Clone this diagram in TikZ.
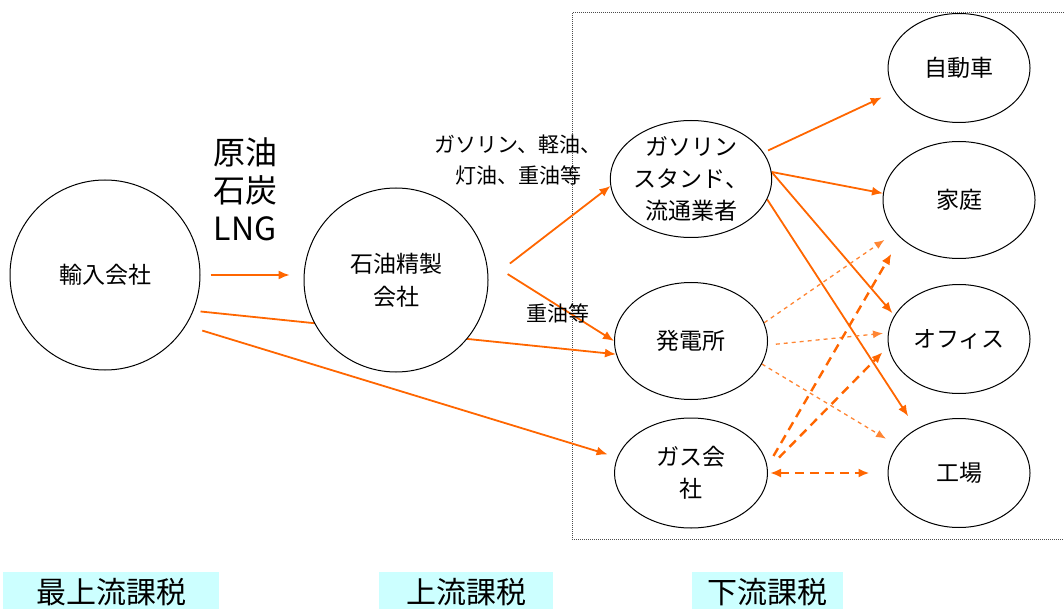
\documentclass[tikz,border=0pt]{standalone}
\usepackage{fontspec}
\setmainfont{Noto Sans CJK JP}
\usepackage{tikz}
\usetikzlibrary{shapes,arrows.meta,backgrounds}
\definecolor{fuel}{RGB}{255,102,0}
\definecolor{taxbg}{RGB}{204,255,255}
\tikzstyle{flow} = [draw=fuel, line width=1.8pt, -{Latex[length=11pt, width=9pt]}]
\tikzstyle{elec} = [draw=fuel!80, line width=1.3pt, dash pattern=on 4pt off 4pt, -{Latex[length=10pt, width=8pt]}]
\tikzstyle{gasflow} = [draw=fuel, line width=2.4pt, dash pattern=on 9pt off 6pt, -{Latex[length=11pt, width=9pt]}]
\tikzstyle{hub} = [draw, circle, fill=white, line width=1pt, minimum size=190pt, inner sep=0pt, align=center, font=\fontsize{23}{33}\selectfont]
\tikzstyle{mid} = [draw, ellipse, fill=white, line width=1pt, minimum width=153pt, minimum height=117pt, inner xsep=0pt, inner ysep=-3pt, align=center, font=\fontsize{23}{32}\selectfont]
\tikzstyle{user} = [mid, minimum width=142pt, minimum height=109pt]
\tikzstyle{note} = [align=center, font=\fontsize{21}{31}\selectfont]
\tikzstyle{tax} = [fill=taxbg, minimum height=40pt, inner sep=0pt, font=\fontsize{30}{30}\selectfont]
\tikzstyle{zone} = [draw=black!70, line width=1pt, densely dotted]
\begin{document}
\begin{tikzpicture}[x=1pt, y=-1pt]
		\useasboundingbox (0,0) rectangle (1064,609);
		\node [hub] (imp) at (105,275) {輸入会社};
		\node [hub, right of=imp, node distance=291pt, yshift=-5pt, minimum size=184pt] (ref) {石油精製\\会社};
		\node [mid, right of=ref, node distance=295pt, yshift=101pt] (gs) {ガソリン\\スタンド、\\流通業者};
		\node [mid, below of=gs, node distance=162pt] (pow) {発電所};
		\node [mid, below of=pow, node distance=132pt, minimum height=110pt] (gas) {ガス会\\社};
		\node [user, right of=gs, node distance=268pt, yshift=111pt] (car) {自動車};
		\node [user, below of=car, node distance=132pt, minimum width=152pt, minimum height=117pt] (home) {家庭};
		\node [user, below of=home, node distance=139pt] (off) {オフィス};
		\node [user, below of=off, node distance=134pt] (fac) {工場};
		
		\node [note, font=\fontsize{32}{38}\selectfont] (crude) at (245,189) {原油\\石炭\\LNG};
		\node [note] (prod) at (518,160) {ガソリン、軽油、\\灯油、重油等};
		\node [note] (heavy) at (558,313) {重油等};
		
		\node [tax, minimum width=216pt] (top) at (111,592) {最上流課税};
		\node [tax, minimum width=174pt] (up) at (466,592) {上流課税};
		\node [tax, minimum width=151pt] (down) at (767,592) {下流課税};
		
		\begin{scope}[on background layer]
		\draw [zone] (572,13) rectangle (1068,539);
		\path [flow, line width=1.4pt, shorten <=10pt, shorten >=14pt] (imp.east) to (imp.east -| ref.west);
		\path [flow, shorten <=7pt] (imp.-22) to (pow.190);
		\path [flow, shorten <=17pt, shorten >=10pt] (imp.-32) to (gas.168);
		\path [flow, shorten <=27pt] (ref.east) to (gs.185);
		\path [flow, shorten <=25pt] (ref.12) to (pow.180);
		\path [flow, shorten <=5pt, shorten >=14pt] (gs.20) to (car.200);
		\path [flow] (gs.5) to (home.175);
		\path [flow, shorten >=3pt] (gs.5) to (off.160);
		\path [flow, shorten >=15pt] (gs.-15) to (fac.134);
		\path [elec, shorten >=13pt] (pow.14) to (home.207);
		\path [elec, shorten <=8pt, shorten >=5pt] (pow.-3) to (off.175);
		\path [elec, shorten >=13pt] (pow.-18) to (fac.156);
		\path [gasflow, shorten <=12pt, shorten >=18pt] (gas.5) to (home.213);
		\path [gasflow, shorten <=16pt, shorten >=8pt] (gas.3) to (off.186);
		\path [gasflow, {Latex[length=11pt, width=9pt]}-{Latex[length=11pt, width=9pt]}, shorten <=2pt, shorten >=18pt] (gas.east) to (fac.west);
		\end{scope}
	\end{tikzpicture}
\end{document}
